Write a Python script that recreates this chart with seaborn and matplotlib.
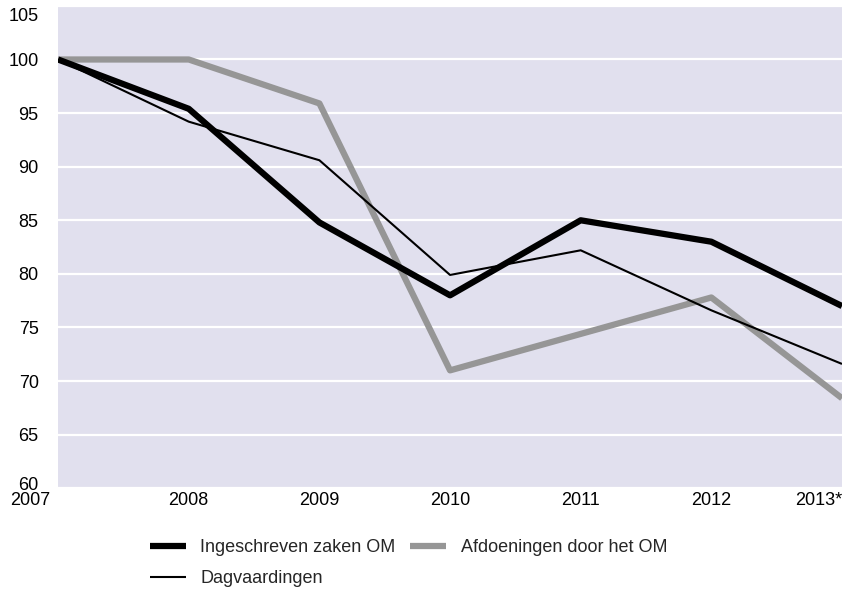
import numpy as np
import pandas as pd
import matplotlib
matplotlib.use("Agg")
import matplotlib.pyplot as plt
import matplotlib.transforms as mtransforms
import seaborn as sns

years = [2007, 2008, 2009, 2010, 2011, 2012, 2013]
year_labels = ["2007", "2008", "2009", "2010", "2011", "2012", "2013*"]
ingeschreven = [100, 95.4, 84.8, 78.0, 85.0, 83.0, 77.0]
afdoeningen = [100, 100, 95.9, 71.0, 74.4, 77.8, 68.4]
dagvaardingen = [100, 94.2, 90.6, 79.9, 82.2, 76.6, 71.6]

sns.set_theme(style="darkgrid", rc={
    "axes.facecolor": "#E1E0EE",
    "grid.color": "white",
    "grid.linewidth": 1.6,
    "lines.solid_capstyle": "butt",
})
plt.rcParams["font.family"] = ["Liberation Sans", "DejaVu Sans"]

df = pd.DataFrame({
    "jaar": years,
    "Ingeschreven zaken OM": ingeschreven,
    "Afdoeningen door het OM": afdoeningen,
    "Dagvaardingen": dagvaardingen,
})

fig = plt.figure(figsize=(8.42, 5.89), dpi=100)
ax = fig.add_axes([0.069, 0.171, 0.931, 0.819])

# volgorde zo dat de legenda (kolomsgewijs gevuld) rij 1: dik zwart + grijs, rij 2: dun zwart geeft
sns.lineplot(data=df, x="jaar", y="Ingeschreven zaken OM", color="black",
             linewidth=4.5, ax=ax, label="Ingeschreven zaken OM", zorder=3)
sns.lineplot(data=df, x="jaar", y="Dagvaardingen", color="black",
             linewidth=1.5, ax=ax, label="Dagvaardingen", zorder=4)
sns.lineplot(data=df, x="jaar", y="Afdoeningen door het OM", color="#969696",
             linewidth=4.5, ax=ax, label="Afdoeningen door het OM", zorder=2)

ax.set_xlim(2007, 2013)
ax.set_ylim(60, 105)
ax.set_yticks(range(60, 106, 5))
ax.set_xticks(years)
ax.set_xticklabels(year_labels)
ax.grid(axis="x", visible=False)
ax.set_xlabel("")
ax.set_ylabel("")
ax.tick_params(axis="both", labelsize=13, colors="black", length=0)
ax.tick_params(axis="y", pad=14)
ax.tick_params(axis="x", pad=3)
for s in ax.spines.values():
    s.set_visible(False)


def shift(label, dx, dy):
    label.set_transform(label.get_transform() +
                        mtransforms.ScaledTranslation(dx / 72, dy / 72, fig.dpi_scale_trans))


tl = ax.get_xticklabels()
tl[0].set_horizontalalignment("right")
shift(tl[0], -6, 0)
tl[-1].set_horizontalalignment("right")

yl = ax.get_yticklabels()
yl[-1].set_verticalalignment("top")
shift(yl[-1], 0, -1.5)
shift(yl[0], 0, 3.5)

ax.legend(loc="upper left", bbox_to_anchor=(0.117, -0.106), ncol=2, frameon=False,
          fontsize=13, handlelength=2.0, handletextpad=0.8, columnspacing=0.8,
          labelspacing=0.75, borderaxespad=0, borderpad=0)

fig.savefig("out.png", dpi=100)
